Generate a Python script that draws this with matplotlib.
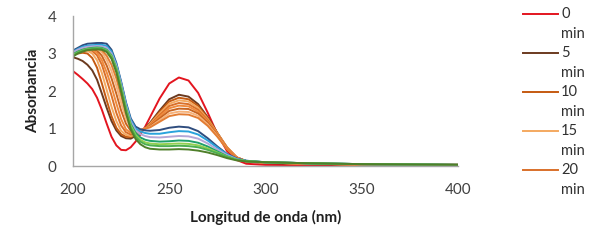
import matplotlib
matplotlib.use("Agg")
import matplotlib.pyplot as plt
from matplotlib.lines import Line2D

plt.rcParams['font.family'] = ['Lato', 'DejaVu Sans']

wavelength = [200, 202.5, 205, 207.5, 210, 212.5, 215, 217.5, 220, 222.5, 225, 227.5,
              230, 232.5, 235, 237.5, 240, 245, 250, 255, 260, 265, 270, 275, 280,
              285, 290, 300, 325, 350, 400]

abs_0 = [2.53, 2.43, 2.32, 2.2, 2.05, 1.82, 1.5, 1.13, 0.78, 0.55, 0.43, 0.42, 0.5, 0.65, 0.84,
         1.05, 1.3, 1.8, 2.2, 2.36, 2.28, 1.95, 1.42, 0.85, 0.4, 0.16, 0.06, 0.03, 0.02, 0.02, 0.02]
abs_5 = [2.9, 2.86, 2.8, 2.7, 2.55, 2.3, 1.93, 1.55, 1.2, 0.95, 0.8, 0.74, 0.73, 0.8, 0.92,
         1.01, 1.15, 1.48, 1.78, 1.9, 1.85, 1.65, 1.3, 0.88, 0.48, 0.22, 0.12, 0.08, 0.05, 0.04, 0.03]
abs_10 = [2.97, 3.0, 3.02, 3.0, 2.88, 2.62, 2.2, 1.75, 1.33, 1.02, 0.85, 0.78, 0.77, 0.83, 0.93,
          1.0, 1.13, 1.44, 1.72, 1.82, 1.78, 1.6, 1.28, 0.88, 0.5, 0.23, 0.13, 0.09, 0.06, 0.04, 0.03]
abs_15 = [3.0, 3.03, 3.06, 3.07, 3.0, 2.82, 2.48, 2.03, 1.58, 1.2, 0.94, 0.83, 0.8, 0.84, 0.93,
          1.0, 1.12, 1.4, 1.66, 1.75, 1.72, 1.55, 1.25, 0.87, 0.5, 0.23, 0.13, 0.09, 0.06, 0.04, 0.03]
abs_20 = [3.02, 3.05, 3.08, 3.1, 3.07, 2.95, 2.7, 2.3, 1.88, 1.42, 1.08, 0.9, 0.84, 0.86, 0.94,
          1.0, 1.1, 1.36, 1.6, 1.68, 1.65, 1.5, 1.22, 0.85, 0.49, 0.23, 0.13, 0.09, 0.06, 0.04, 0.03]
abs_25 = [3.03, 3.06, 3.09, 3.11, 3.1, 3.02, 2.82, 2.5, 2.12, 1.67, 1.25, 0.98, 0.88, 0.88, 0.95,
          1.0, 1.08, 1.32, 1.54, 1.61, 1.59, 1.45, 1.19, 0.84, 0.48, 0.23, 0.13, 0.09, 0.06, 0.04, 0.03]
abs_30 = [3.03, 3.07, 3.1, 3.12, 3.12, 3.08, 2.94, 2.68, 2.34, 1.93, 1.48, 1.13, 0.94, 0.9, 0.95,
          1.0, 1.06, 1.27, 1.47, 1.53, 1.52, 1.4, 1.15, 0.82, 0.47, 0.23, 0.13, 0.09, 0.06, 0.04, 0.03]
abs_35 = [3.04, 3.08, 3.11, 3.13, 3.14, 3.12, 3.03, 2.83, 2.53, 2.14, 1.68, 1.26, 1.01, 0.93, 0.96,
          1.0, 1.04, 1.22, 1.4, 1.45, 1.44, 1.34, 1.11, 0.8, 0.46, 0.22, 0.13, 0.09, 0.06, 0.04, 0.03]
abs_40 = [3.05, 3.09, 3.12, 3.14, 3.15, 3.15, 3.09, 2.94, 2.7, 2.34, 1.88, 1.4, 1.08, 0.96, 0.96,
          1.0, 1.03, 1.18, 1.33, 1.38, 1.37, 1.28, 1.07, 0.78, 0.45, 0.22, 0.13, 0.09, 0.06, 0.04, 0.03]
abs_45 = [3.08, 3.15, 3.22, 3.26, 3.27, 3.28, 3.28, 3.26, 3.1, 2.75, 2.25, 1.7, 1.27, 1.05, 0.98,
          0.95, 0.94, 0.96, 1.02, 1.05, 1.03, 0.93, 0.74, 0.52, 0.32, 0.2, 0.14, 0.1, 0.07, 0.05, 0.03]
abs_50 = [3.05, 3.12, 3.18, 3.21, 3.22, 3.23, 3.23, 3.2, 3.05, 2.72, 2.22, 1.67, 1.23, 1.0, 0.92,
          0.88, 0.86, 0.86, 0.9, 0.93, 0.92, 0.84, 0.68, 0.49, 0.31, 0.19, 0.14, 0.1, 0.07, 0.05, 0.03]
abs_55 = [3.03, 3.1, 3.15, 3.18, 3.19, 3.2, 3.19, 3.15, 3.0, 2.68, 2.18, 1.62, 1.18, 0.95, 0.85,
          0.8, 0.77, 0.76, 0.78, 0.8, 0.79, 0.73, 0.6, 0.44, 0.29, 0.18, 0.13, 0.1, 0.07, 0.05, 0.03]
abs_60 = [2.98, 3.05, 3.1, 3.13, 3.15, 3.16, 3.15, 3.1, 2.95, 2.62, 2.12, 1.56, 1.12, 0.88, 0.76,
          0.7, 0.67, 0.65, 0.66, 0.68, 0.67, 0.62, 0.52, 0.39, 0.26, 0.17, 0.13, 0.1, 0.07, 0.05, 0.03]
abs_65 = [2.96, 3.03, 3.08, 3.12, 3.13, 3.14, 3.13, 3.08, 2.93, 2.6, 2.1, 1.53, 1.08, 0.83, 0.7,
          0.63, 0.6, 0.58, 0.59, 0.6, 0.59, 0.55, 0.47, 0.36, 0.25, 0.17, 0.13, 0.1, 0.07, 0.05, 0.03]
abs_70 = [2.94, 3.02, 3.07, 3.11, 3.12, 3.13, 3.12, 3.07, 2.9, 2.56, 2.05, 1.48, 1.03, 0.78, 0.65,
          0.58, 0.55, 0.53, 0.53, 0.54, 0.53, 0.5, 0.43, 0.34, 0.24, 0.16, 0.13, 0.1, 0.07, 0.05, 0.03]
abs_75 = [2.92, 3.0, 3.05, 3.09, 3.1, 3.11, 3.1, 3.04, 2.86, 2.5, 1.98, 1.42, 0.97, 0.72, 0.58,
          0.5, 0.46, 0.44, 0.44, 0.45, 0.44, 0.41, 0.36, 0.29, 0.21, 0.15, 0.12, 0.1, 0.07, 0.05, 0.03]

series_labels = ["0 min", "5 min", "10 min", "15 min", "20 min", "25 min", "30 min", "35 min",
                 "40 min", "45 min", "50 min", "55 min", "60 min", "65 min", "70 min", "75 min"]
series_values = [abs_0, abs_5, abs_10, abs_15, abs_20, abs_25, abs_30, abs_35, abs_40,
                 abs_45, abs_50, abs_55, abs_60, abs_65, abs_70, abs_75]
series_colors = ['#e3151f', '#6b3a1f', '#c55a11', '#f4a960', '#d9702a', '#f08a3c', '#c86420',
                 '#f6b27a', '#e37d33', '#2f4d7e', '#29a3dc', '#b4a7d6', '#1fa06a', '#92d050',
                 '#4caf50', '#4f7f2a']

x_ticks = [200, 250, 300, 350, 400]
y_ticks = [0, 1, 2, 3, 4]

W, H = 605, 247
fig = plt.figure(figsize=(W / 100, H / 100), dpi=100)
ax = fig.add_axes([73 / W, 1 - 166 / H, (458 - 73) / W, (166 - 16) / H])

for vals, col in zip(series_values, series_colors):
    ax.plot(wavelength, vals, color=col, lw=1.4, solid_capstyle='round', solid_joinstyle='round')

ax.set_xlim(200, 400)
ax.set_ylim(0, 4)
ax.set_xticks(x_ticks)
ax.set_yticks(y_ticks)
ax.tick_params(axis='both', length=0, labelsize=11, colors='#404040')
ax.tick_params(axis='x', pad=12)
ax.tick_params(axis='y', pad=12)
for s in ['top', 'right']:
    ax.spines[s].set_visible(False)
for s in ['left', 'bottom']:
    ax.spines[s].set_color('#a6a6a6')
    ax.spines[s].set_linewidth(1.0)

fig.text(265.5 / W, 1 - 217 / H, "Longitud de onda (nm)", ha='center', va='center',
         fontsize=11, fontweight='bold', color='#202020')
fig.text(33 / W, 1 - 91 / H, "Absorbancia", ha='center', va='center', rotation=90,
         fontsize=11, fontweight='bold', color='#202020')

# legend (clipped in the original, only first five entries visible)
n_leg = 5
for i in range(n_leg):
    yy = 14 + i * 39
    fig.add_artist(Line2D([523 / W, 558 / W], [1 - yy / H, 1 - yy / H],
                          color=series_colors[i], lw=1.4, transform=fig.transFigure))
    num, unit = series_labels[i].split(" ")
    fig.text(561 / W, 1 - yy / H, num, ha='left', va='center', fontsize=10.5, color='#303030')
    fig.text(561 / W, 1 - (yy + 20) / H, unit, ha='left', va='center', fontsize=10.5, color='#303030')

fig.savefig("out.png", dpi=100)
